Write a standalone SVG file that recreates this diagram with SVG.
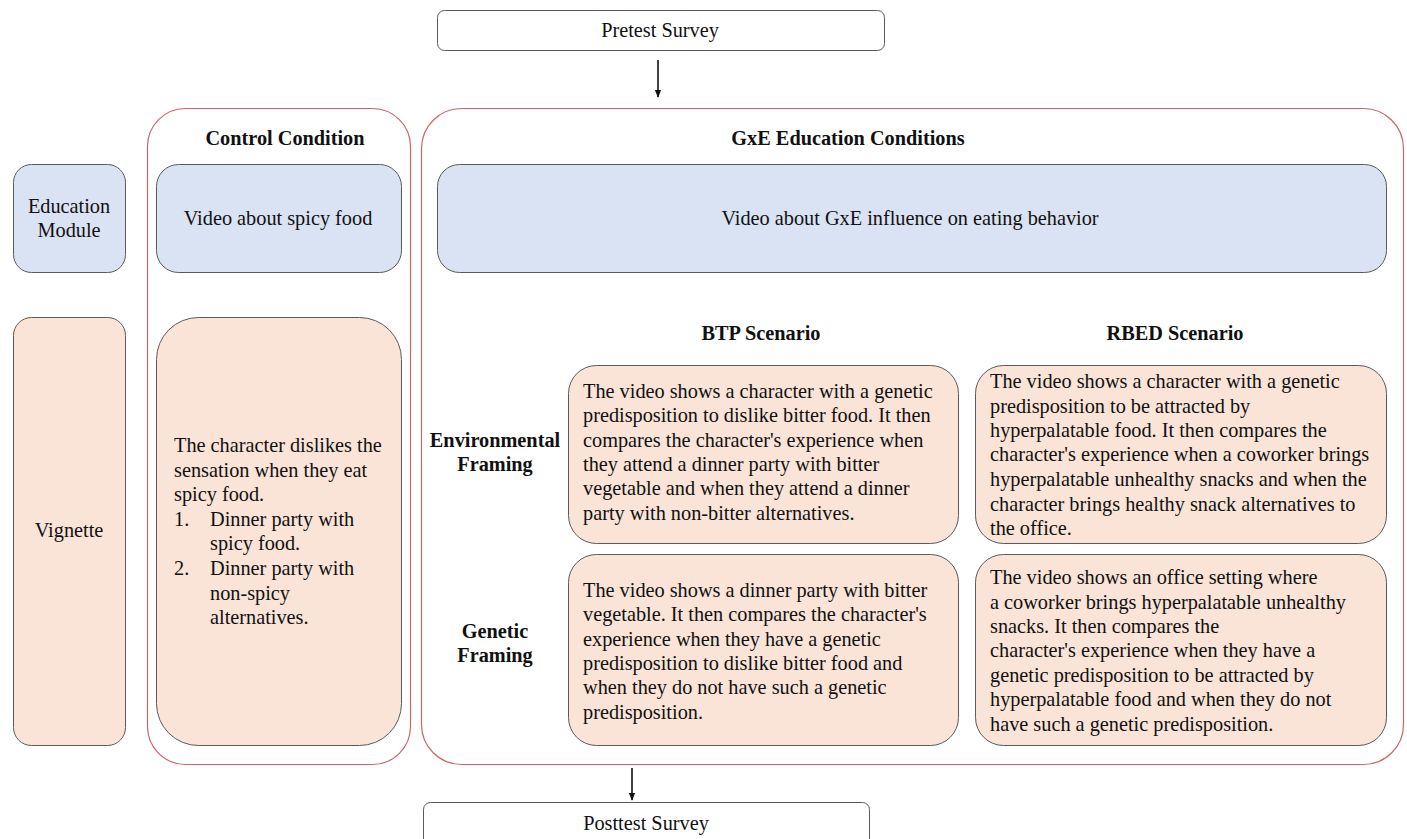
<svg xmlns="http://www.w3.org/2000/svg" width="1407" height="839" viewBox="0 0 1407 839">
<style>
text{font-family:"Liberation Serif","Times New Roman",serif;font-size:20.3px;fill:#111}
.b{font-weight:bold}
.c{text-anchor:middle}
.cont{fill:#fff;stroke:#c9676a;stroke-width:1.2}
.blue{fill:#dae3f3;stroke:#5a5a5a;stroke-width:1}
.peach{fill:#f9e4d7;stroke:#5a5a5a;stroke-width:1}
.white{fill:#fff;stroke:#5a5a5a;stroke-width:1}
.conn{stroke:#111;stroke-width:1.6;fill:none}
</style>
<defs>
<marker id="arr" viewBox="0 0 10 10" refX="9" refY="5" markerWidth="5" markerHeight="5" orient="auto">
<path d="M0,1 L10,5 L0,9 z" fill="#111"/>
</marker>
</defs>
<rect width="1407" height="839" fill="#fff"/>
<g id="pretest">
<rect class="white" x="437.5" y="10.5" width="447" height="40" rx="7"/>
<text class="c" x="660" y="37">Pretest Survey</text>
</g>
<g id="control-container">
<rect class="cont" x="147.5" y="108.5" width="263" height="656" rx="38"/>
<text class="b c" x="285" y="145">Control Condition</text>
</g>
<g id="gxe-container">
<rect class="cont" x="421.5" y="108.5" width="982" height="656" rx="40"/>
<text class="b c" x="848" y="145">GxE Education Conditions</text>
</g>
<g id="education-module">
<rect class="blue" x="13.5" y="164.5" width="112" height="108" rx="18"/>
<text class="c" x="69" y="213">Education</text>
<text class="c" x="69" y="237">Module</text>
</g>
<g id="vignette">
<rect class="peach" x="13.5" y="317.5" width="112" height="428" rx="18"/>
<text class="c" x="69" y="537">Vignette</text>
</g>
<g id="control-video">
<rect class="blue" x="156.5" y="164.5" width="245" height="108" rx="22"/>
<text class="c" x="278" y="225">Video about spicy food</text>
</g>
<g id="control-vignette">
<rect class="peach" x="156.5" y="317.5" width="245" height="428" rx="42"/>
<text x="174" y="452">The character dislikes the</text>
<text x="174" y="477">sensation when they eat</text>
<text x="174" y="501">spicy food.</text>
<text x="174" y="526">1.</text><text x="210" y="526">Dinner party with</text>
<text x="210" y="550">spicy food.</text>
<text x="174" y="575">2.</text><text x="210" y="575">Dinner party with</text>
<text x="210" y="600">non-spicy</text>
<text x="210" y="624">alternatives.</text>
</g>
<g id="gxe-video">
<rect class="blue" x="437.5" y="164.5" width="949" height="108" rx="22"/>
<text class="c" x="910" y="225">Video about GxE influence on eating behavior</text>
</g>
<g id="btp-label"><text class="b c" x="761" y="340">BTP Scenario</text></g>
<g id="rbed-label"><text class="b c" x="1175" y="340">RBED Scenario</text></g>
<g id="env-label">
<text class="b c" x="495" y="447">Environmental</text>
<text class="b c" x="495" y="471">Framing</text>
</g>
<g id="gen-label">
<text class="b c" x="495" y="638">Genetic</text>
<text class="b c" x="495" y="662">Framing</text>
</g>
<g id="btp-env">
<rect class="peach" x="568.5" y="365.5" width="390" height="178" rx="28"/>
<text x="583" y="398">The video shows a character with a genetic</text>
<text x="583" y="422">predisposition to dislike bitter food. It then</text>
<text x="583" y="447">compares the character's experience when</text>
<text x="583" y="471">they attend a dinner party with bitter</text>
<text x="583" y="495">vegetable and when they attend a dinner</text>
<text x="583" y="520">party with non-bitter alternatives.</text>
</g>
<g id="rbed-env">
<rect class="peach" x="975.5" y="365.5" width="411" height="178" rx="28"/>
<text x="990" y="388">The video shows a character with a genetic</text>
<text x="990" y="413">predisposition to be attracted by</text>
<text x="990" y="437">hyperpalatable food. It then compares the</text>
<text x="990" y="461">character's experience when a coworker brings</text>
<text x="990" y="486">hyperpalatable unhealthy snacks and when the</text>
<text x="990" y="511">character brings healthy snack alternatives to</text>
<text x="990" y="535">the office.</text>
</g>
<g id="btp-gen">
<rect class="peach" x="568.5" y="554.5" width="390" height="191" rx="28"/>
<text x="583" y="597">The video shows a dinner party with bitter</text>
<text x="583" y="621">vegetable. It then compares the character's</text>
<text x="583" y="646">experience when they have a genetic</text>
<text x="583" y="670">predisposition to dislike bitter food and</text>
<text x="583" y="694">when they do not have such a genetic</text>
<text x="583" y="719">predisposition.</text>
</g>
<g id="rbed-gen">
<rect class="peach" x="975.5" y="554.5" width="411" height="191" rx="28"/>
<text x="990" y="584">The video shows an office setting where</text>
<text x="990" y="609">a coworker brings hyperpalatable unhealthy</text>
<text x="990" y="633">snacks. It then compares the</text>
<text x="990" y="657">character's experience when they have a</text>
<text x="990" y="682">genetic predisposition to be attracted by</text>
<text x="990" y="706">hyperpalatable food and when they do not</text>
<text x="990" y="731">have such a genetic predisposition.</text>
</g>
<g id="posttest">
<rect class="white" x="423.5" y="802.5" width="446" height="44" rx="7"/>
<text class="c" x="646" y="830">Posttest Survey</text>
</g>
<g id="connectors">
<line class="conn" x1="658" y1="60" x2="658" y2="97" marker-end="url(#arr)"/>
<line class="conn" x1="632" y1="768" x2="632" y2="800" marker-end="url(#arr)"/>
</g>
</svg>
